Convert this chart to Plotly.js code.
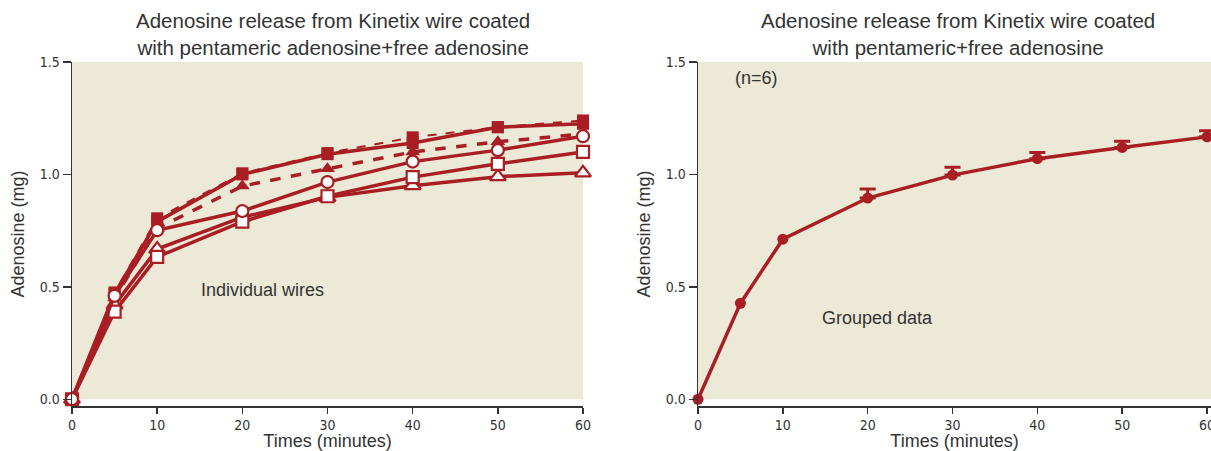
<!DOCTYPE html>
<html><head><meta charset="utf-8">
<script src="https://cdn.plot.ly/plotly-3.0.1.min.js"></script>
<style>html,body{margin:0;padding:0;background:#fff}#chart{width:1211px;height:451px}</style>
</head><body><div id="chart"></div>
<script>
// ---- data ----
const time = [0, 5, 10, 20, 30, 40, 50, 60];
// individual wires (mg)
const wireSolidSquare  = [0, 0.470, 0.790, 1.000, 1.090, 1.140, 1.210, 1.225];
const wireDashSquare   = [0, 0.475, 0.805, 1.005, 1.095, 1.165, 1.210, 1.240];
const wireDashTriangle = [0, 0.450, 0.760, 0.948, 1.025, 1.100, 1.145, 1.180];
const wireOpenTriangle = [0, 0.420, 0.668, 0.810, 0.898, 0.950, 0.990, 1.007];
const wireOpenSquare   = [0, 0.390, 0.633, 0.790, 0.903, 0.988, 1.047, 1.100];
const wireOpenCircle   = [0, 0.460, 0.752, 0.837, 0.966, 1.057, 1.108, 1.170];
// grouped data (n=6)
const groupMean = [0, 0.427, 0.712, 0.895, 0.997, 1.070, 1.120, 1.167];
const groupErr  = [null, null, null, 0.040, 0.035, 0.028, 0.027, 0.027];
const yTicks = [0, 0.5, 1.0, 1.5];
const xTicks = [0, 10, 20, 30, 40, 50, 60];
const titleLeft = "Adenosine release from Kinetix wire coated<br>with pentameric adenosine+free adenosine";
const titleRight = "Adenosine release from Kinetix wire coated<br>with pentameric+free adenosine";

// ---- style ----
const RED = "#a81e24";
const BG = "#ece9d6";
const TXT = "#333333";
const TEXTFONT = "Liberation Sans, Arial, sans-serif";
const NARROW = "Liberation Sans Narrow, Arial Narrow, DejaVu Sans Condensed, sans-serif";

function wire(y, symbol, dash, width, open, size) {
  return {
    x: time, y: y, type: "scatter", mode: "lines+markers", xaxis: "x", yaxis: "y",
    cliponaxis: false, showlegend: false,
    line: {color: RED, width: width, dash: dash},
    marker: {symbol: symbol, size: size, color: open ? "#ffffff" : RED,
             line: {color: RED, width: open ? 2.2 : 0}}
  };
}

// points that carry an error bar
const errIdx = groupErr.map((e, i) => (e === null ? -1 : i)).filter(i => i >= 0);

const traces = [
  wire(wireSolidSquare, "square", "solid", 3.5, false, 12),
  wire(wireDashSquare, "square", "dash", 2, false, 12),
  wire(wireDashTriangle, "triangle-up", "dash", 3.5, false, 13),
  wire(wireOpenTriangle, "triangle-up", "solid", 3.5, true, 14),
  wire(wireOpenSquare, "square", "solid", 3.5, true, 12),
  wire(wireOpenCircle, "circle", "solid", 3.5, true, 12),
  {
    x: errIdx.map(i => time[i]), y: errIdx.map(i => groupMean[i]),
    type: "scatter", mode: "markers", xaxis: "x2", yaxis: "y2",
    cliponaxis: false, showlegend: false,
    marker: {size: 1, color: "rgba(0,0,0,0)"},
    error_y: {type: "data", symmetric: false, array: errIdx.map(i => groupErr[i]),
              arrayminus: errIdx.map(() => 0), color: RED, thickness: 3, width: 8}
  },
  {
    x: time, y: groupMean, type: "scatter", mode: "lines+markers", xaxis: "x2", yaxis: "y2",
    cliponaxis: false, showlegend: false,
    line: {color: RED, width: 3.5},
    marker: {symbol: "circle", size: 11, color: RED}
  }
];

function xax(domain, range, anchor) {
  return {
    domain: domain, range: range, anchor: anchor, tickvals: xTicks,
    showgrid: false, zeroline: false, showline: true, linecolor: "#333", linewidth: 1.5,
    ticks: "outside", ticklen: 6, tickwidth: 1.5, tickcolor: "#333",
    ticklabeloverflow: "allow",
    tickfont: {family: NARROW, size: 14, color: TXT},
    title: {text: "Times (minutes)", font: {family: TEXTFONT, size: 18, color: TXT}, standoff: 2}
  };
}
function yax(domain, anchor) {
  return {
    domain: domain, range: [-0.03, 1.5], anchor: anchor, tickvals: yTicks, tickformat: ".1f",
    showgrid: false, zeroline: false, showline: true, linecolor: "#333", linewidth: 1.5,
    ticks: "outside", ticklen: 8, tickwidth: 1.5, tickcolor: "#333",
    tickfont: {family: NARROW, size: 14, color: TXT},
    title: {text: "Adenosine (mg)", font: {family: TEXTFONT, size: 18, color: TXT}, standoff: 10}
  };
}

const yDom = [45 / 451, 389 / 451];
const layout = {
  width: 1211, height: 451,
  margin: {l: 0, r: 0, t: 0, b: 0},
  paper_bgcolor: "#ffffff", plot_bgcolor: "rgba(0,0,0,0)",
  xaxis: xax([72 / 1211, 583 / 1211], [0, 60], "y"),
  yaxis: yax(yDom, "x"),
  xaxis2: xax([698 / 1211, 1], [0, 60.47], "y2"),
  yaxis2: yax(yDom, "x2"),
  shapes: [
    {type: "rect", xref: "x", yref: "y", x0: 0, x1: 60, y0: 0, y1: 1.5, fillcolor: BG, line: {width: 0}, layer: "below"},
    {type: "rect", xref: "x2", yref: "y2", x0: 0, x1: 60.47, y0: 0, y1: 1.5, fillcolor: BG, line: {width: 0}, layer: "below"}
  ],
  annotations: [
    {text: titleLeft, xref: "paper", yref: "paper", x: 333 / 1211, y: 1 - 34 / 451, xanchor: "center", yanchor: "middle",
     showarrow: false, font: {family: TEXTFONT, size: 20.5, color: TXT}},
    {text: titleRight, xref: "paper", yref: "paper", x: 958 / 1211, y: 1 - 34 / 451, xanchor: "center", yanchor: "middle",
     showarrow: false, font: {family: TEXTFONT, size: 20.5, color: TXT}},
    {text: "Individual wires", xref: "x", yref: "y", x: 22.4, y: 0.485, showarrow: false,
     font: {family: TEXTFONT, size: 18, color: TXT}},
    {text: "Grouped data", xref: "x2", yref: "y2", x: 21.1, y: 0.36, showarrow: false,
     font: {family: TEXTFONT, size: 18, color: TXT}},
    {text: "(n=6)", xref: "x2", yref: "y2", x: 6.9, y: 1.43, showarrow: false,
     font: {family: TEXTFONT, size: 18, color: TXT}}
  ]
};

Plotly.newPlot("chart", traces, layout, {staticPlot: true, displayModeBar: false});
</script></body></html>
